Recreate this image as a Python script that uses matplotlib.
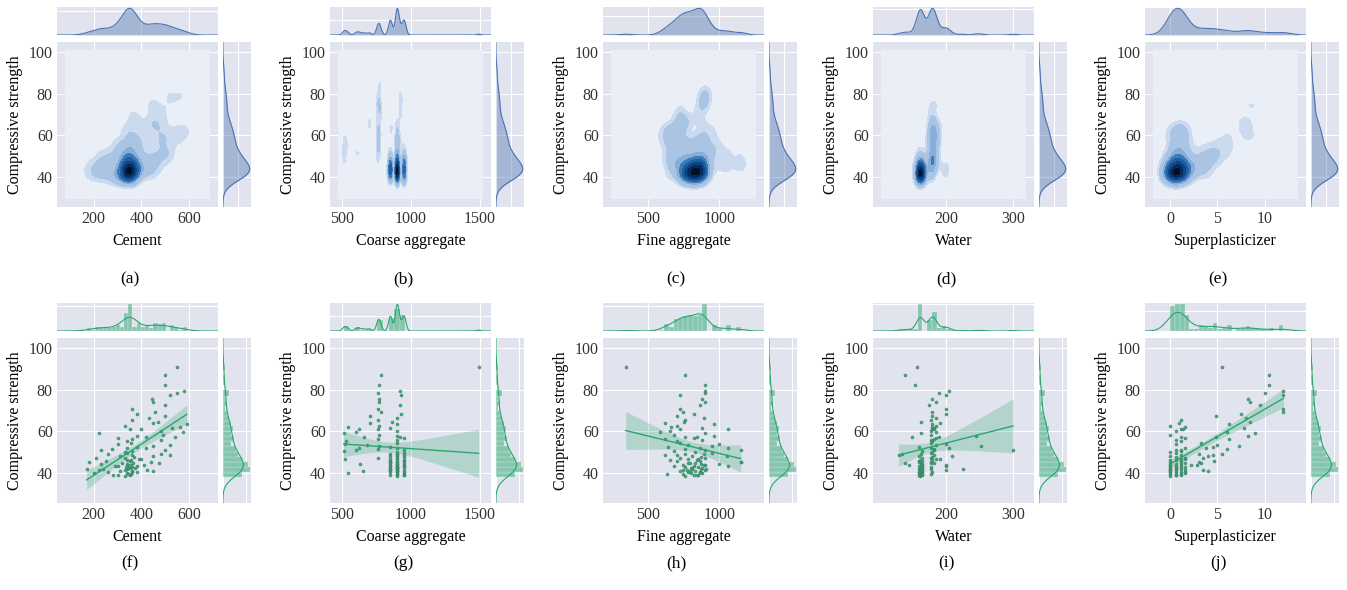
import numpy as np
import matplotlib
matplotlib.use("Agg")
import matplotlib.pyplot as plt
from matplotlib.colors import ListedColormap

# compressive strength (shared by every panel)
strength = [38.5, 39, 39.2, 39.5, 39.8, 40, 40.2, 40.5, 40.7, 41, 41.2, 41.5, 41.7, 42, 38.8, 39.6, 40.9, 41.3, 41.8, 40.3,
            42.2, 42.5, 42.8, 43, 43.3, 43.5, 43.8, 44, 44.2, 44.5, 44.8, 45, 45.3, 45.6, 45.9, 42.6, 43.1, 43.9, 44.6, 45.4,
            46.1, 46.4, 46.8, 47, 47.3, 47.7, 48, 48.3, 48.6, 49, 49.3, 49.7, 46.6, 48.8,
            50.2, 50.6, 51, 51.4, 51.8, 52.2, 52.7, 53.1, 53.6, 54, 54.5, 50.9,
            55.2, 55.8, 56.3, 56.9, 57.4, 58, 58.5, 59, 59.5, 57.1,
            60.3, 61, 61.6, 62.2, 62.8, 63.4, 64, 64.6, 61.3,
            65.5, 66.4, 67.3, 68.2, 69.4,
            71, 72.6, 74.2,
            75.8, 77.3, 78.5, 79.6,
            82.5,
            87, 91]

cement = [330, 350, 280, 355, 200, 340, 260, 380, 310, 362, 220, 425, 170, 340, 300, 345, 450, 330, 240, 360,
          350, 345, 360, 335, 380, 290, 355, 410, 340, 230, 365, 320, 440, 350, 250, 372, 300, 345, 475, 180,
          340, 355, 400, 210, 330, 370, 450, 310, 360, 480, 260, 340, 390, 520,
          330, 360, 500, 275, 420, 340, 380, 450, 520, 300, 355, 230,
          340, 480, 360, 300, 540, 380, 490, 220, 575, 420,
          480, 350, 530, 560, 330, 590, 450, 470, 400,
          360, 430, 500, 380, 455,
          360, 500, 450,
          445, 520, 550, 580,
          500,
          500, 550]

coarse = [900, 950, 850, 900, 540, 950, 900, 850, 900, 900, 950, 850, 900, 850, 950, 900, 650, 850, 900, 950,
          850, 900, 950, 900, 900, 850, 900, 950, 630, 900, 850, 950, 900, 950, 850, 900, 950, 850, 900, 850,
          900, 950, 850, 900, 760, 950, 850, 900, 950, 900, 850, 950, 520, 900,
          900, 510, 950, 760, 620, 900, 850, 770, 680, 520, 900, 600,
          530, 900, 760, 950, 660, 900, 770, 510, 600, 920,
          900, 760, 850, 540, 770, 900, 700, 860, 620,
          760, 900, 700, 930, 780,
          760, 920, 770,
          770, 930, 760, 920,
          770,
          780, 1490]

fine = [760, 820, 850, 740, 880, 800, 780, 860, 720, 830, 900, 770, 810, 870, 840, 630, 790, 745, 905, 860,
        800, 880, 760, 850, 680, 820, 900, 740, 870, 1000, 780, 830, 1150, 700, 860, 810, 1060, 890, 790, 1150,
        650, 840, 780, 900, 720, 870, 1050, 810, 620, 760, 890, 950, 850, 700,
        830, 680, 900, 760, 1060, 860, 640, 950, 780, 1000, 720, 1150,
        700, 880, 620, 820, 760, 960, 680, 900, 580, 840,
        650, 720, 880, 660, 700, 960, 620, 750, 1060,
        760, 890, 700, 820, 740,
        720, 860, 900,
        880, 720, 900, 900,
        900,
        760, 340]

water = [162, 165, 160, 178, 165, 162, 160, 180, 163, 165, 200, 163, 160, 178, 160, 165, 162, 165, 225, 160,
         162, 165, 178, 165, 200, 160, 163, 200, 165, 163, 182, 140, 178, 160, 165, 162, 165, 145, 178, 160,
         180, 162, 185, 178, 165, 180, 160, 210, 182, 163, 135, 178, 192, 130,
         180, 165, 182, 183, 178, 205, 160, 252, 185, 200, 178, 300,
         180, 178, 182, 185, 190, 245, 178, 163, 185, 150,
         178, 180, 183, 180, 185, 180, 192, 163, 182,
         178, 185, 180, 200, 180,
         200, 175, 185,
         180, 200, 190, 205,
         155,
         140, 157]

superplasticizer = [0, 0.6, 1.1, 0, 1.6, 0.6, 0, 1.1, 4.0, 0.6, 0, 1.6, 1.1, 0, 0.6, 1.1, 0, 3.5, 0.6, 1.6,
                    0, 0.6, 1.1, 1.6, 0, 0.6, 2.2, 1.1, 0, 0.6, 3.2, 1.6, 0, 1.1, 4.6, 0.6, 0, 2.8, 1.1, 3.0,
                    0, 0.6, 1.1, 1.6, 3.5, 0.6, 4.0, 0, 1.1, 3.0, 5.5, 0.6, 1.6, 4.5,
                    0, 1.1, 0.6, 6.0, 3.8, 1.6, 4.5, 7.3, 5.0, 0.6, 3.2, 1.1,
                    1.1, 0.6, 6.2, 1.6, 4.8, 8.2, 0, 9.0, 6.0, 1.1,
                    0.6, 1.1, 7.8, 1.6, 0, 6.2, 0.9, 8.5, 1.3,
                    1.1, 8.0, 4.8, 7.5, 12.0,
                    12.0, 9.5, 8.5,
                    8.2, 12.0, 10.0, 12.0,
                    10.5,
                    10.5, 5.5]

variables = ["Cement", "Coarse aggregate", "Fine aggregate", "Water", "Superplasticizer"]
top_labels = ["(a)", "(b)", "(c)", "(d)", "(e)"]
bottom_labels = ["(f)", "(g)", "(h)", "(i)", "(j)"]
xdata = [cement, coarse, fine, water, superplasticizer]
xlims = [(46, 721), (412, 1580), (180, 1314), (92, 331), (-2.7, 14.4)]
xticks = [[200, 400, 600], [500, 1000, 1500], [500, 1000], [200, 300], [0, 5, 10]]
bw_x = [0.7, 0.25, 0.8, 0.6, 0.6]
YLIM = (25.5, 105)

BG = "#E1E4EE"
BLUE = "#4C72B0"
GREEN = "#2AA56E"
plt.rcParams["font.family"] = ["Liberation Serif", "DejaVu Serif"]
plt.rcParams["font.size"] = 11.5

W, H = 1347, 590
fig = plt.figure(figsize=(W / 100, H / 100), dpi=100)


def add_ax(x0, y0, w, h):
    # pixel box (top-left origin) -> figure axes
    ax = fig.add_axes([x0 / W, 1 - (y0 + h) / H, w / W, h / H])
    ax.set_facecolor(BG)
    for s in ax.spines.values():
        s.set_visible(False)
    ax.tick_params(length=0, labelsize=11.5, pad=3, colors="#333333")
    ax.grid(True, color="white", lw=0.8)
    ax.set_axisbelow(True)
    return ax


def kde1d(data, grid, adj):
    d = np.asarray(data, float)
    bw = adj * d.std(ddof=1) * len(d) ** (-0.2)
    z = (grid[:, None] - d[None, :]) / bw
    return np.exp(-0.5 * z ** 2).sum(axis=1) / (len(d) * bw * np.sqrt(2 * np.pi))


kde_cmap = ListedColormap(["#E9EEF7", "#cbdaee", "#aac5e4", "#86aed8", "#5f94c9",
                           "#3b7abb", "#1f60a5", "#0e4688", "#062c5e", "#020f26"])
levels = np.array([0, 0.1, 0.17, 0.25, 0.34, 0.45, 0.57, 0.7, 0.83, 0.95, 1.01])

lefts = [57, 330, 603, 873, 1145]
y_rng = np.linspace(YLIM[0], YLIM[1], 300)
ys = np.asarray(strength, float)

for row in range(2):
    top = 7 if row == 0 else 303
    for i, var in enumerate(variables):
        L = lefts[i]
        xs = np.asarray(xdata[i], float)
        x0, x1 = xlims[i]
        x_rng = np.linspace(x0, x1, 400)

        axm = add_ax(L, top, 161, 28)
        ax = add_ax(L, top + 35, 161, 165)
        axr = add_ax(L + 166, top + 35, 28, 165)

        ax.set_xlim(x0, x1)
        ax.set_ylim(*YLIM)
        ax.set_xticks(xticks[i])
        ax.set_yticks([40, 60, 80, 100])
        ax.set_xlabel(var, labelpad=4)
        ax.set_ylabel("Compressive strength", labelpad=4)
        axm.set_xlim(x0, x1)
        axm.set_xticks(xticks[i])
        axr.set_ylim(*YLIM)
        axr.set_yticks([40, 60, 80, 100])
        axm.tick_params(labelbottom=False, labelleft=False)
        axr.tick_params(labelbottom=False, labelleft=False)

        fx = kde1d(xs, x_rng, bw_x[i])
        fy = kde1d(ys, y_rng, 0.8)

        if row == 0:
            # 2D kde on inner rectangle
            dx = (x1 - x0) * 0.05
            dy = (YLIM[1] - YLIM[0]) * 0.05
            gx = np.linspace(x0 + dx, x1 - dx, 250)
            gy = np.linspace(YLIM[0] + dy, YLIM[1] - dy, 250)
            GX, GY = np.meshgrid(gx, gy)
            bx = bw_x[i] * 0.8 * xs.std(ddof=1) * len(xs) ** (-1 / 6)
            by = 0.55 * ys.std(ddof=1) * len(ys) ** (-1 / 6)
            Z = np.zeros_like(GX)
            for px, py in zip(xs, ys):
                Z += np.exp(-0.5 * ((GX - px) / bx) ** 2 - 0.5 * ((GY - py) / by) ** 2)
            Z /= Z.max()
            ax.contourf(GX, GY, Z, levels=levels, cmap=kde_cmap)

            axm.fill_between(x_rng, 0, fx, color=BLUE, alpha=0.4, lw=0)
            axm.plot(x_rng, fx, color=BLUE, lw=0.8)
            axm.set_ylim(0, fx.max() * 1.05)
            axr.fill_betweenx(y_rng, 0, fy, color=BLUE, alpha=0.4, lw=0)
            axr.plot(fy, y_rng, color=BLUE, lw=0.8)
            axr.set_xlim(0, fy.max() * 1.05)
            fig.text((L + 73) / W, 1 - 279 / H, top_labels[i], ha="center", va="center", fontsize=12.5)
        else:
            ax.scatter(xs, ys, s=5, color=GREEN, edgecolor="#4a6e60", lw=0.3, alpha=0.9, zorder=3)
            # linear fit with 95% band
            b, a = np.polyfit(xs, ys, 1)
            n = len(xs)
            resid = ys - (a + b * xs)
            s = np.sqrt((resid ** 2).sum() / (n - 2))
            lx = np.linspace(xs.min(), xs.max(), 100)
            se = s * np.sqrt(1 / n + (lx - xs.mean()) ** 2 / ((xs - xs.mean()) ** 2).sum())
            ly = a + b * lx
            ax.fill_between(lx, ly - 1.98 * se, ly + 1.98 * se, color=GREEN, alpha=0.25, lw=0, zorder=2)
            ax.plot(lx, ly, color=GREEN, lw=1.0, zorder=4)

            hx, ex, _ = axm.hist(xs, bins=24, range=(xs.min(), xs.max()), density=True,
                                 color=GREEN, alpha=0.5, edgecolor="white", lw=0.3)
            axm.plot(x_rng, fx, color=GREEN, lw=0.8)
            axm.set_ylim(0, max(hx.max(), fx.max()) * 1.05)
            hy, ey, _ = axr.hist(ys, bins=22, range=(38, 92), density=True, orientation="horizontal",
                                 color=GREEN, alpha=0.5, edgecolor="white", lw=0.3)
            axr.plot(fy, y_rng, color=GREEN, lw=0.8)
            axr.set_xlim(0, max(hy.max(), fy.max()) * 1.05)
            fig.text((L + 73) / W, 1 - 563 / H, bottom_labels[i], ha="center", va="center", fontsize=12.5)

fig.savefig("out.png", dpi=100, facecolor="white")
